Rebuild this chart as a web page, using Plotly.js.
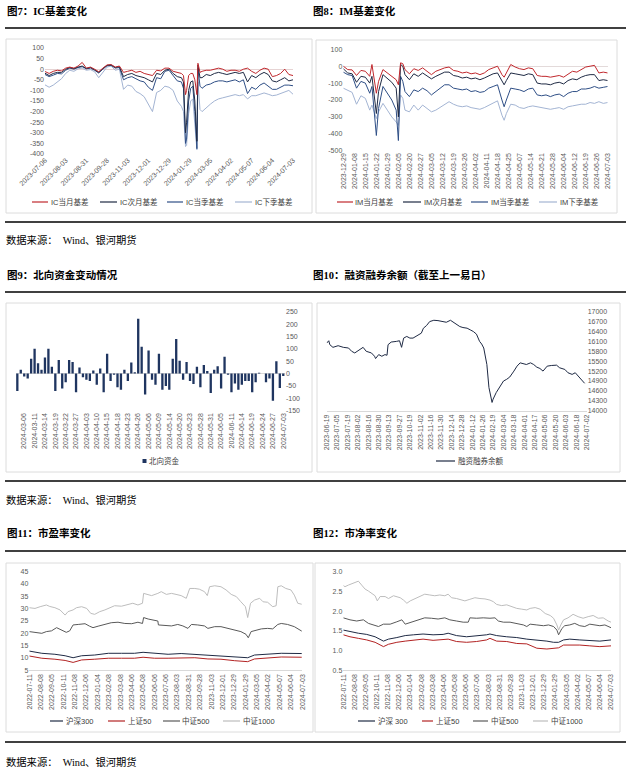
<!DOCTYPE html>
<html><head><meta charset="utf-8">
<script src="https://cdn.plot.ly/plotly-3.0.1.min.js"></script>
<style>html,body{margin:0;padding:0;background:#fff;}#c{width:631px;height:772px;}</style>
</head><body><div id="c"></div>
<script>
// ---------- 图7 IC基差 ----------
const icTicks = ['2023-07-06','2023-08-03','2023-08-31','2023-09-28','2023-11-03','2023-12-01','2023-12-29','2024-01-29','2024-03-05','2024-04-02','2024-05-07','2024-06-04','2024-07-03'];
const icTickPos = [0,20,40,60,80,100,120,140,160,180,200,220,240];
const icDay = [0,4,8,12,16,20,24,28,32,36,40,44,48,52,56,60,64,68,72,76,80,84,88,92,96,100,104,108,112,116,120,124,128,132,134,136,137,139,141,143,145,147,148,150,152,156,160,164,168,172,176,180,184,188,192,196,200,204,208,212,216,220,224,228,232,236,240];
const icM = [-11,-20,-10,-5,-8,5,10,5,15,32,5,10,0,-12,5,20,22,10,15,-15,-10,-5,-15,-10,-20,-25,-30,-5,-8,5,5,-10,-15,-20,-30,-120,-100,-30,-20,-20,-50,-120,28,-15,-10,-5,-5,0,5,0,-10,-5,-5,-10,0,5,-10,-20,-5,5,0,-35,-30,-20,0,-25,-30];
const icN = [-19,-30,-20,-15,-15,0,8,3,10,15,3,8,-3,-15,3,18,20,8,12,-35,-25,-20,-30,-35,-40,-50,-60,-20,-25,-5,0,-20,-35,-40,-60,-300,-250,-100,-60,-55,-150,-340,20,-40,-40,-25,-30,-20,-15,-20,-25,-20,-15,-20,-15,-60,-30,-40,-25,-15,-25,-55,-60,-50,-40,-55,-50];
const icQ = [-25,-35,-28,-20,-22,-5,5,0,8,12,2,5,-5,-18,0,16,18,5,8,-50,-40,-35,-45,-55,-60,-85,-100,-40,-45,-10,-5,-30,-55,-60,-90,-350,-330,-150,-90,-80,-200,-375,5,-80,-90,-75,-70,-60,-55,-55,-60,-55,-50,-60,-50,-115,-85,-95,-75,-65,-80,-95,-95,-85,-75,-75,-78];
const icL = [-74,-85,-75,-60,-45,-20,-5,-10,2,5,-5,-2,-12,-40,-15,10,15,-5,0,-95,-75,-80,-105,-115,-130,-165,-200,-110,-100,-80,-85,-100,-150,-175,-200,-365,-360,-210,-150,-140,-250,-380,-60,-190,-200,-180,-165,-150,-140,-135,-130,-125,-120,-125,-120,-140,-125,-125,-118,-112,-118,-125,-122,-115,-105,-100,-118];
const icYVals = [100,50,0,-50,-100,-150,-200,-250,-300,-350,-400];
const icYText = ['100','50','0','-50','-100','-150','-200','-250','-300','-350','-400'];
const icNames = ['IC当月基差','IC次月基差','IC当季基差','IC下季基差'];

// ---------- 图8 IM基差 ----------
const imTicks = ['2023-12-29','2024-01-08','2024-01-15','2024-01-22','2024-01-29','2024-02-05','2024-02-20','2024-02-27','2024-03-05','2024-03-12','2024-03-19','2024-03-26','2024-04-02','2024-04-11','2024-04-18','2024-04-25','2024-05-07','2024-05-14','2024-05-21','2024-05-28','2024-06-04','2024-06-12','2024-06-19','2024-06-26','2024-07-03'];
const imTickPos = [0,5,10,15,20,25,30,35,40,45,50,55,60,65,70,75,80,85,90,95,100,105,110,115,120];
const imDay = [0,2,4,6,8,10,12,13,15,16,18,20,22,24,25,26,27,28,30,32,34,36,38,40,42,44,46,48,50,52,54,56,58,60,62,64,66,68,70,72,73,74,76,78,80,82,84,86,88,90,92,94,96,98,100,102,104,106,108,110,112,114,116,118,120];
const imM = [0,-20,-22,-55,-25,-30,-60,10,-160,-90,-20,-40,-60,-80,-110,20,15,-20,-45,-15,-25,-10,-30,-50,-30,-20,-10,-5,-25,-30,-40,-35,-45,-40,-50,-40,-20,-10,0,-50,-65,-40,10,-5,-15,-20,-10,-15,-55,-60,-60,-65,-60,-55,-65,-45,-30,-35,-20,-5,0,5,-40,-35,-40];
const imN = [-15,-40,-45,-95,-60,-65,-100,-60,-280,-150,-50,-75,-95,-130,-300,10,0,-50,-80,-45,-60,-40,-55,-75,-60,-45,-35,-35,-55,-60,-70,-65,-75,-70,-80,-70,-55,-45,-40,-90,-110,-85,-40,-45,-50,-55,-45,-50,-100,-105,-105,-110,-100,-95,-105,-85,-75,-80,-65,-55,-50,-50,-85,-80,-85];
const imQ = [-35,-50,-55,-130,-90,-100,-160,-120,-410,-250,-120,-160,-200,-260,-440,-60,-90,-150,-180,-140,-150,-130,-145,-170,-150,-130,-110,-110,-130,-135,-140,-135,-150,-145,-155,-150,-130,-120,-110,-200,-240,-200,-130,-135,-140,-150,-135,-130,-170,-175,-170,-180,-170,-165,-180,-160,-150,-150,-135,-135,-130,-120,-130,-125,-120];
const imL = [-130,-145,-155,-225,-175,-190,-260,-230,-310,-270,-220,-260,-300,-330,-350,-170,-190,-260,-270,-230,-260,-230,-250,-270,-260,-245,-225,-210,-225,-235,-240,-235,-245,-250,-255,-245,-230,-215,-205,-290,-320,-280,-225,-230,-245,-250,-240,-235,-240,-245,-250,-255,-250,-245,-255,-240,-235,-230,-225,-225,-215,-220,-210,-220,-215];
const imYVals = [100,0,-100,-200,-300,-400,-500];
const imYText = ['100','0','-100','-200','-300','-400','-500'];
const imNames = ['IM当月基差','IM次月基差','IM当季基差','IM下季基差'];

// ---------- 图9 北向资金 ----------
const nbTicks = ['2024-03-06','2024-03-11','2024-03-14','2024-03-19','2024-03-22','2024-03-27','2024-04-03','2024-04-10','2024-04-15','2024-04-18','2024-04-23','2024-04-26','2024-05-06','2024-05-09','2024-05-14','2024-05-20','2024-05-23','2024-05-28','2024-05-31','2024-06-05','2024-06-11','2024-06-14','2024-06-19','2024-06-24','2024-06-27','2024-07-03'];
const nbTickPos = [2,5,8,11,14,17,20,23,26,29,32,35,38,41,44,47,50,53,56,59,62,65,68,71,74,77];
const nbFlow = [-70,15,-12,-20,60,100,42,15,65,100,28,-70,55,-60,-35,55,47,-75,25,-15,-25,-30,12,-45,20,-75,80,-30,-5,-55,-65,15,-30,45,5,222,108,-85,93,-25,-45,80,-65,-50,-65,60,140,52,-25,47,-30,-42,28,-55,35,10,-78,15,30,-60,68,-5,-75,-40,-65,-45,-30,-30,-75,-35,3,0,-35,-20,-110,50,-58,-10];
const nbYVals = [250,200,150,100,50,0,-50,-100,-150];
const nbYText = ['250','200','150','100','50','0','-50','-100','-150'];

// ---------- 图10 融资融券余额 ----------
const mbTicks = ['2023-06-19','2023-07-05','2023-07-19','2023-08-02','2023-08-16','2023-08-30','2023-09-13','2023-09-27','2023-10-19','2023-11-02','2023-11-16','2023-11-30','2023-12-14','2023-12-28','2024-01-12','2024-01-26','2024-02-19','2024-03-04','2024-03-18','2024-04-01','2024-04-17','2024-05-06','2024-05-20','2024-06-03','2024-06-18','2024-07-02'];
const mbTickPos = [0,10,20,30,40,50,60,70,80,90,100,110,120,130,140,150,160,170,180,190,200,210,220,230,240,250];
const mbDay = [0,2,3,6,11,16,21,24,27,30,35,38,43,46,47,50,53,56,58,59,62,67,70,72,74,77,80,83,86,88,91,93,96,99,103,107,112,115,119,122,125,128,131,135,138,141,144,147,149,151,154,156,159,160,163,167,170,173,176,180,183,186,189,192,196,199,202,205,208,212,216,221,224,229,232,236,239,242,245,248];
const mbVal = [16050,16120,16000,15920,15970,15920,15900,15800,15750,15820,15920,15800,15750,15650,15580,15700,15650,15700,15680,16000,16080,16100,16120,15920,16200,16250,16200,16200,16250,16300,16350,16500,16580,16700,16740,16730,16700,16680,16740,16680,16620,16550,16520,16500,16450,16400,16320,16100,16020,15900,15400,14700,14250,14350,14550,14750,14900,14950,15020,15200,15350,15450,15420,15400,15450,15400,15320,15280,15200,15350,15370,15380,15300,15250,15150,15100,15150,15050,14950,14830];
const mbYVals = [17000,16700,16400,16100,15800,15500,15200,14900,14600,14300,14000];

// ---------- 图11/12 市盈率 / 市净率 ----------
const valTicks = ['2022-07-11','2022-08-08','2022-09-05','2022-10-11','2022-11-08','2022-12-06','2023-01-04','2023-02-08','2023-03-08','2023-04-06','2023-05-08','2023-06-06','2023-07-06','2023-08-03','2023-08-31','2023-09-28','2023-11-03','2023-12-01','2023-12-29','2024-01-29','2024-03-05','2024-04-02','2024-05-07','2024-06-04','2024-07-03'];
const valTickPos = [0,20,40,60,80,100,120,140,160,180,200,220,240,260,280,300,320,340,360,380,400,420,440,460,480];
const idxNames = ['沪深300','上证50','中证500','中证1000'];
const idxNames12 = ['沪深 300','上证50','中证500','中证1000'];

const pe300Day = [0,22,45,63,77,92,115,139,162,185,200,220,244,267,291,314,337,361,384,396,419,443,479];
const pe300 = [12.8,11.9,11.5,10.9,10.1,10.9,11.2,11.9,11.9,11.9,12.3,11.9,11.5,11.8,11.5,11.2,10.9,10.5,10.1,11.2,11.5,11.9,11.8];
const pe50Day = [0,22,45,63,77,92,115,139,162,185,200,220,244,267,291,314,337,361,384,396,419,443,479];
const pe50 = [10.8,9.9,9.5,9.0,8.2,9.2,9.5,9.9,9.9,9.9,10.3,9.9,9.9,10.1,10.1,9.6,9.5,8.9,8.5,9.6,9.9,10.4,10.3];
const pe500Day = [0,10,22,30,39,48,57,65,71,77,86,98,106,112,121,133,144,156,168,180,191,199,201,209,220,226,227,238,250,261,270,279,285,296,308,314,326,337,349,361,372,381,385,390,399,408,419,428,437,443,454,466,479];
const pe500 = [20.7,20.3,20.0,20.7,21.0,22.3,21.3,20.4,21.0,23.4,23.6,23.9,22.9,22.3,22.9,23.6,24.3,24.5,24.0,23.9,24.5,24.0,26.4,25.8,25.4,25.0,23.4,23.1,23.0,23.6,23.0,22.0,23.6,23.4,23.0,22.0,22.7,22.7,22.0,21.4,20.7,19.6,18.2,20.7,21.4,21.8,22.0,21.8,23.6,24.0,23.6,22.7,20.9];
const pe1000Day = [0,10,19,30,36,45,54,63,68,77,83,92,101,108,115,124,133,144,150,162,174,182,191,199,201,209,215,226,232,241,250,258,267,276,282,291,299,308,313,317,326,337,346,355,364,372,380,384,389,396,405,411,419,428,434,437,443,451,460,466,472,479];
const pe1000 = [30.4,30.1,30.8,31.5,30.9,30.4,29.5,27.4,28.8,29.5,30.4,30.8,30.1,28.1,27.7,28.8,29.5,30.8,31.2,31.0,31.8,32.2,31.5,32.2,36.2,35.8,35.3,36.2,36.9,35.8,36.2,35.8,35.3,34.2,38.2,38.2,37.9,36.9,35.3,38.9,39.3,38.9,37.6,35.8,34.9,32.8,30.8,26.4,32.2,33.5,34.2,32.8,32.6,30.8,31.2,38.9,39.3,38.2,37.6,35.5,32.2,31.8];
const peYVals = [45,40,35,30,25,20,15,10,5];

const pb300Day = [0,12,27,42,57,72,81,96,111,126,143,161,179,188,203,221,239,257,263,275,293,311,329,347,365,377,386,395,406,424,442,460,480];
const pb300 = [1.52,1.48,1.44,1.41,1.35,1.24,1.29,1.33,1.38,1.40,1.42,1.40,1.41,1.44,1.38,1.35,1.37,1.40,1.42,1.38,1.35,1.33,1.29,1.27,1.24,1.21,1.21,1.27,1.29,1.27,1.26,1.24,1.27];
const pb50Day = [0,12,27,42,57,72,81,96,111,126,143,161,179,188,203,221,239,257,263,275,293,311,329,347,365,377,386,395,406,424,442,460,480];
const pb50 = [1.40,1.35,1.31,1.27,1.21,1.10,1.16,1.21,1.24,1.26,1.29,1.26,1.27,1.29,1.23,1.21,1.23,1.27,1.31,1.24,1.23,1.18,1.17,1.06,1.04,1.06,1.07,1.14,1.14,1.14,1.12,1.10,1.12];
const pb500Day = [0,12,24,36,45,54,63,72,84,96,105,111,123,134,146,158,170,182,191,203,215,224,227,239,251,263,272,278,287,299,311,323,329,335,347,359,368,377,383,386,392,397,406,415,424,433,442,451,460,469,480];
const pb500 = [1.83,1.78,1.75,1.78,1.69,1.65,1.61,1.67,1.67,1.73,1.78,1.67,1.73,1.78,1.83,1.82,1.80,1.83,1.78,1.75,1.72,1.72,1.83,1.82,1.83,1.82,1.83,1.75,1.72,1.72,1.69,1.65,1.61,1.67,1.65,1.63,1.65,1.61,1.52,1.40,1.56,1.63,1.65,1.69,1.63,1.61,1.67,1.65,1.63,1.65,1.58];
const pb1000Day = [0,3,9,15,21,27,33,39,45,51,57,61,66,75,81,90,96,102,108,114,120,129,137,146,155,164,173,182,188,194,203,212,218,227,236,245,254,263,269,275,284,293,302,311,320,329,335,344,353,362,371,377,383,386,390,395,403,412,421,430,439,448,457,466,475,480];
const pb1000 = [2.65,2.62,2.66,2.70,2.73,2.76,2.66,2.56,2.51,2.45,2.39,2.26,2.37,2.37,2.32,2.39,2.37,2.34,2.28,2.20,2.26,2.32,2.39,2.43,2.41,2.39,2.41,2.39,2.43,2.34,2.32,2.28,2.26,2.30,2.34,2.32,2.31,2.28,2.24,2.17,2.14,2.16,2.11,2.07,2.05,2.03,2.07,2.09,2.05,1.94,1.89,1.82,1.65,1.52,1.65,1.78,1.83,1.92,1.86,1.82,1.86,1.89,1.82,1.83,1.75,1.72];
const pbYVals = [3.0,2.5,2.0,1.5,1.0,0.5];

// ---------- drawing ----------
const W = 631, H = 772;
const px = x => x / W, py = y => 1 - y / H;
const F = '"Liberation Sans", Arial, sans-serif';
const FS = '"Liberation Serif", "Noto Sans CJK SC", serif';
const FC = '"Liberation Sans", "Noto Sans CJK SC", sans-serif';
const RED = '#C0282D', NAVY = '#1F2A44', BLUE = '#2F4F86', LBLUE = '#A3B4D3';
const BAR = '#1F3560', DGRAY = '#595959', LGRAY = '#BDBDBD';

function ln(x, y, color, xa, ya, w) {
  return {type: 'scatter', mode: 'lines', x: x, y: y, xaxis: xa, yaxis: ya,
    line: {color: color, width: w || 1}, hoverinfo: 'skip', showlegend: false};
}
const traces = [
  ln(icDay, icL, LBLUE, 'x', 'y'), ln(icDay, icQ, BLUE, 'x', 'y'), ln(icDay, icN, NAVY, 'x', 'y'), ln(icDay, icM, RED, 'x', 'y'),
  ln(imDay, imL, LBLUE, 'x2', 'y2'), ln(imDay, imQ, BLUE, 'x2', 'y2'), ln(imDay, imN, NAVY, 'x2', 'y2'), ln(imDay, imM, RED, 'x2', 'y2'),
  {type: 'bar', x: nbFlow.map((v, i) => i), y: nbFlow, xaxis: 'x3', yaxis: 'y3', marker: {color: BAR}, hoverinfo: 'skip', showlegend: false},
  ln(mbDay, mbVal, NAVY, 'x4', 'y4'),
  ln(pe1000Day, pe1000, LGRAY, 'x5', 'y5'), ln(pe500Day, pe500, DGRAY, 'x5', 'y5'), ln(pe300Day, pe300, NAVY, 'x5', 'y5'), ln(pe50Day, pe50, '#B22222', 'x5', 'y5'),
  ln(pb1000Day, pb1000, LGRAY, 'x6', 'y6'), ln(pb500Day, pb500, DGRAY, 'x6', 'y6'), ln(pb300Day, pb300, NAVY, 'x6', 'y6'), ln(pb50Day, pb50, '#B22222', 'x6', 'y6')
];

const tf = {family: F, size: 7, color: '#595959'};
function ax(o) {
  return Object.assign({showgrid: false, zeroline: false, showline: false, ticks: '', tickfont: tf, fixedrange: true, tickmode: 'array'}, o);
}
const layout = {
  width: W, height: H, margin: {l: 0, r: 0, t: 0, b: 0}, paper_bgcolor: '#fff', plot_bgcolor: 'rgba(0,0,0,0)',
  showlegend: false, bargap: 0.33,
  xaxis: ax({domain: [px(45), px(293)], range: [0, 240], tickvals: icTickPos, ticktext: icTicks, tickangle: -45, anchor: 'y'}),
  yaxis: ax({domain: [py(154), py(48)], range: [-400, 100], tickvals: icYVals, ticktext: icYText, anchor: 'x', zeroline: true, zerolinecolor: '#E6D3D3', zerolinewidth: 1}),
  xaxis2: ax({domain: [px(343.3), px(607.7)], range: [0, 120], tickvals: imTickPos, ticktext: imTicks, tickangle: -90, anchor: 'y2'}),
  yaxis2: ax({domain: [py(150.7), py(49.3)], range: [-500, 100], tickvals: imYVals, ticktext: imYText, anchor: 'x2', zeroline: true, zerolinecolor: '#E3DADA', zerolinewidth: 1}),
  xaxis3: ax({domain: [px(15.6), px(285)], range: [-0.5, 77.5], tickvals: nbTickPos, ticktext: nbTicks, tickangle: -90, anchor: 'y3'}),
  yaxis3: ax({domain: [py(410.7), py(311.7)], range: [-150, 250], tickvals: nbYVals, ticktext: nbYText, anchor: 'x3', side: 'right', zeroline: true, zerolinecolor: '#D9D9D9', zerolinewidth: 1}),
  xaxis4: ax({domain: [px(326.7), px(586.7)], range: [0, 250], tickvals: mbTickPos, ticktext: mbTicks, tickangle: -90, anchor: 'y4', showline: true, linecolor: '#D9D9D9', linewidth: 1}),
  yaxis4: ax({domain: [py(410.7), py(311.7)], range: [14000, 17000], tickvals: mbYVals, tickformat: 'd', anchor: 'x4', side: 'right'}),
  xaxis5: ax({domain: [px(29.3), px(302.3)], range: [0, 480], tickvals: valTickPos, ticktext: valTicks, tickangle: -90, anchor: 'y5', showline: true, linecolor: '#D9D9D9', linewidth: 1}),
  yaxis5: ax({domain: [py(670.3), py(571.7)], range: [5, 45], tickvals: peYVals, anchor: 'x5'}),
  xaxis6: ax({domain: [px(343.3), px(611)], range: [0, 480], tickvals: valTickPos, ticktext: valTicks, tickangle: -90, anchor: 'y6', showline: true, linecolor: '#D9D9D9', linewidth: 1}),
  yaxis6: ax({domain: [py(670.3), py(571.7)], range: [0.5, 3.0], tickvals: pbYVals, tickformat: '.1f', anchor: 'x6'}),
  shapes: [], annotations: []
};

// separators and chart boxes
[28, 222, 292, 481, 551, 742].forEach(y => layout.shapes.push({type: 'line', xref: 'paper', yref: 'paper', x0: px(5), x1: px(626), y0: py(y), y1: py(y), line: {color: '#000', width: 1.3}}));
[[6, 39, 312, 213], [316, 40, 617, 213], [6, 303, 312, 472], [317, 303, 620, 472], [6, 563, 313, 732], [315, 563, 620, 732]].forEach(b =>
  layout.shapes.push({type: 'rect', xref: 'paper', yref: 'paper', x0: px(b[0]), x1: px(b[2]), y0: py(b[3]), y1: py(b[1]), line: {color: '#DCDCDC', width: 1}}));

function txt(t, x, y, size, bold, fam, color) {
  layout.annotations.push({text: bold ? '<b>' + t + '</b>' : t, xref: 'paper', yref: 'paper', x: px(x), y: py(y), xanchor: 'left', yanchor: 'middle', showarrow: false,
    font: {family: fam || FS, size: size, color: color || '#000'}});
}
txt('图7：IC基差变化', 5, 11, 10.5, true);
txt('图8：IM基差变化', 311, 11, 10.5, true);
txt('图9：北向资金变动情况', 5, 275, 10.5, true);
txt('图10：融资融券余额（截至上一易日）', 311, 275, 10.5, true);
txt('图11：市盈率变化', 5, 533, 10.5, true);
txt('图12：市净率变化', 311, 533, 10.5, true);
['数据来源：  Wind、银河期货'].forEach(s => { txt(s, 4, 240, 10.3); txt(s, 4, 500, 10.3); txt(s, 4, 762, 10.3); });

function legItem(x0, x1, y, color, label, w) {
  layout.shapes.push({type: 'line', xref: 'paper', yref: 'paper', x0: px(x0), x1: px(x1), y0: py(y), y1: py(y), line: {color: color, width: w || 1.2}});
  txt(label, x1 + 0.5, y, 7.5, false, FC, '#404040');
}
const icCols = [RED, NAVY, BLUE, LBLUE];
[[32, 48], [100, 117], [167, 183], [235, 252]].forEach((p, i) => legItem(p[0], p[1], 202, icCols[i], icNames[i]));
[[337, 353], [403, 421], [471, 488], [539, 557]].forEach((p, i) => legItem(p[0], p[1], 202, icCols[i], imNames[i]));
layout.shapes.push({type: 'rect', xref: 'paper', yref: 'paper', x0: px(142.5), x1: px(146.5), y0: py(463), y1: py(459), fillcolor: BAR, line: {width: 0}});
txt('北向资金', 147, 461, 7.5, false, FC, '#404040');
legItem(436, 455, 461, NAVY, '融资融券余额');
const idxCols = [NAVY, '#B22222', DGRAY, LGRAY];
[[50, 63], [108, 125], [163, 180], [223, 240]].forEach((p, i) => legItem(p[0], p[1], 721, idxCols[i], idxNames[i]));
[[358, 375], [422, 433], [473, 488], [533, 548]].forEach((p, i) => legItem(p[0], p[1], 721, idxCols[i], idxNames12[i]));

Plotly.newPlot('c', traces, layout, {displayModeBar: false, staticPlot: true});
</script></body></html>
